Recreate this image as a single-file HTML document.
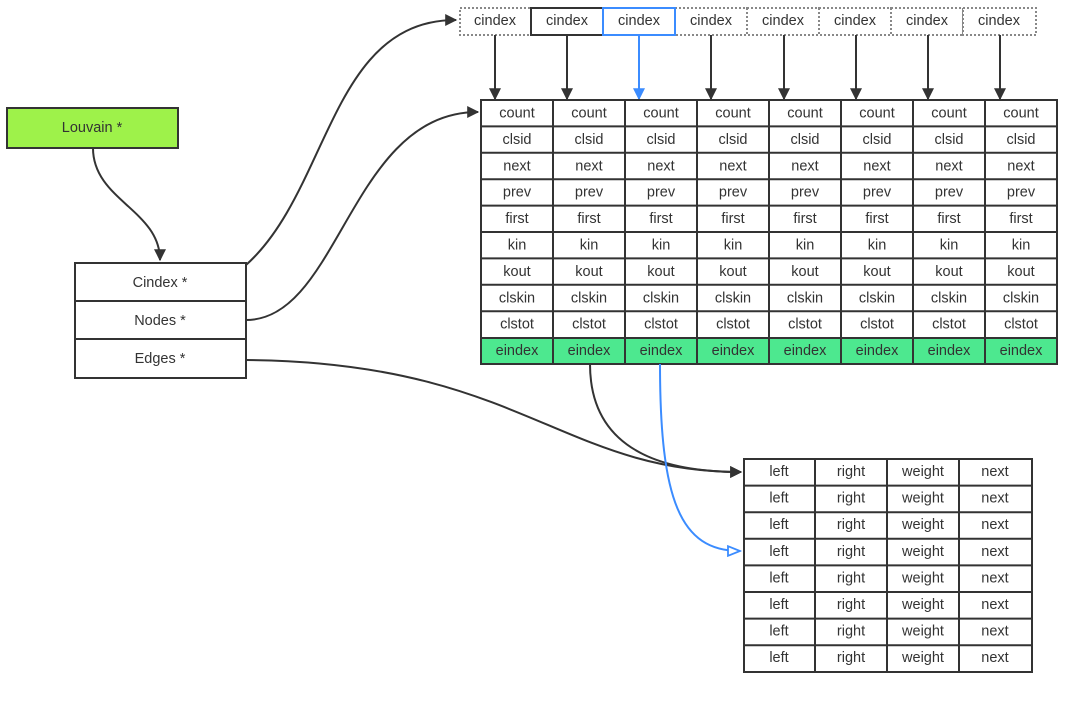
<!DOCTYPE html>
<html><head><meta charset="utf-8"><style>
body{margin:0;width:1080px;height:704px;background:#fff;overflow:hidden}
svg text{font-family:"Liberation Sans",sans-serif;font-size:14.5px;fill:#333;text-anchor:middle;dominant-baseline:central}
</style></head><body>
<svg width="1080" height="704" xmlns="http://www.w3.org/2000/svg">
<defs>
<marker id="a" viewBox="0 0 10 10" refX="9" refY="5" markerWidth="13" markerHeight="12" markerUnits="userSpaceOnUse" orient="auto"><path d="M0,0L10,5L0,10z" fill="#333"/></marker>
<marker id="b" viewBox="0 0 10 10" refX="9" refY="5" markerWidth="13" markerHeight="12" markerUnits="userSpaceOnUse" orient="auto"><path d="M0,0L10,5L0,10z" fill="#3b8cff"/></marker>
<marker id="o" viewBox="0 0 12 10" refX="11" refY="5" markerWidth="15" markerHeight="12" markerUnits="userSpaceOnUse" orient="auto"><path d="M1,1L11,5L1,9z" fill="#fff" stroke="#3b8cff" stroke-width="1.5"/></marker>
</defs>
<rect x="7" y="108" width="171" height="40" fill="#9ef24a" stroke="#333" stroke-width="2"/>
<text x="92" y="128">Louvain *</text>
<g fill="#fff" stroke="#333" stroke-width="2">
<rect x="75" y="263" width="171" height="38"/><rect x="75" y="301" width="171" height="38"/><rect x="75" y="339" width="171" height="39"/>
</g>
<text x="160" y="283">Cindex *</text><text x="160" y="321">Nodes *</text><text x="160" y="359">Edges *</text>
<g fill="#fff" stroke-width="2">
<rect x="460" y="8" width="71" height="27" stroke="#888" stroke-dasharray="2,2"/>
<rect x="675" y="8" width="72" height="27" stroke="#888" stroke-dasharray="2,2"/>
<rect x="747" y="8" width="72" height="27" stroke="#888" stroke-dasharray="2,2"/>
<rect x="819" y="8" width="72" height="27" stroke="#888" stroke-dasharray="2,2"/>
<rect x="891" y="8" width="72" height="27" stroke="#888" stroke-dasharray="2,2"/>
<rect x="963" y="8" width="73" height="27" stroke="#888" stroke-dasharray="2,2"/>
<rect x="531" y="8" width="72" height="27" stroke="#333"/>
<rect x="603" y="8" width="72" height="27" stroke="#3b8cff"/>
</g>
<g>
<text x="495" y="21">cindex</text><text x="567" y="21">cindex</text><text x="639" y="21">cindex</text><text x="711" y="21">cindex</text><text x="783" y="21">cindex</text><text x="855" y="21">cindex</text><text x="927" y="21">cindex</text><text x="999" y="21">cindex</text>
</g>
<g stroke="#333" stroke-width="2" marker-end="url(#a)">
<line x1="495" y1="35" x2="495" y2="99"/><line x1="567" y1="35" x2="567" y2="99"/>
<line x1="711" y1="35" x2="711" y2="99"/><line x1="784" y1="35" x2="784" y2="99"/><line x1="856" y1="35" x2="856" y2="99"/><line x1="928" y1="35" x2="928" y2="99"/><line x1="1000" y1="35" x2="1000" y2="99"/>
</g>
<line x1="639" y1="35" x2="639" y2="99" stroke="#3b8cff" stroke-width="2" marker-end="url(#b)"/>
<rect x="481" y="338" width="576" height="26" fill="#4de88f"/>
<g stroke="#333" stroke-width="2" fill="none">
<rect x="481" y="100" width="576" height="264"/>
<path d="M481,126.4H1057M481,152.8H1057M481,179.2H1057M481,205.6H1057M481,232H1057M481,258.4H1057M481,284.8H1057M481,311.2H1057M481,338H1057"/>
<path d="M553,100V364M625,100V364M697,100V364M769,100V364M841,100V364M913,100V364M985,100V364"/>
</g>
<g id="nodes"></g>
<g stroke="#333" stroke-width="2" fill="#fff">
<rect x="744" y="459" width="288" height="213"/>
</g>
<g stroke="#333" stroke-width="2" fill="none">
<path d="M744,485.6H1032M744,512.2H1032M744,538.8H1032M744,565.4H1032M744,592H1032M744,618.6H1032M744,645.2H1032"/>
<path d="M815,459V672M887,459V672M959,459V672"/>
</g>
<g id="edges"></g>
<g stroke="#333" stroke-width="2" fill="none" marker-end="url(#a)">
<path d="M93,148C93,200 160,210 160,260"/>
<path d="M246,265C330,190 330,20 456,20"/>
<path d="M246,320C340,320 350,112 478,112"/>
<path d="M246,360C520,362 560,472 741,472"/>
<path d="M590,364C590,460 680,472 741,472"/>
</g>
<path d="M660,364C660,500 680,551 740,551" stroke="#3b8cff" stroke-width="2" fill="none" marker-end="url(#o)"/>
</svg>
<script>
var ns="http://www.w3.org/2000/svg";
function t(g,x,y,s){var e=document.createElementNS(ns,"text");e.setAttribute("x",x);e.setAttribute("y",y);e.textContent=s;document.getElementById(g).appendChild(e);}
var f=["count","clsid","next","prev","first","kin","kout","clskin","clstot","eindex"];
for(var c=0;c<8;c++)for(var r=0;r<10;r++)t("nodes",517+72*c,113.5+26.4*r,f[r]);
var h=["left","right","weight","next"],xs=[779,851,923,995];
for(var r=0;r<8;r++)for(var c=0;c<4;c++)t("edges",xs[c],472+26.6*r,h[c]);
</script>
</body></html>
